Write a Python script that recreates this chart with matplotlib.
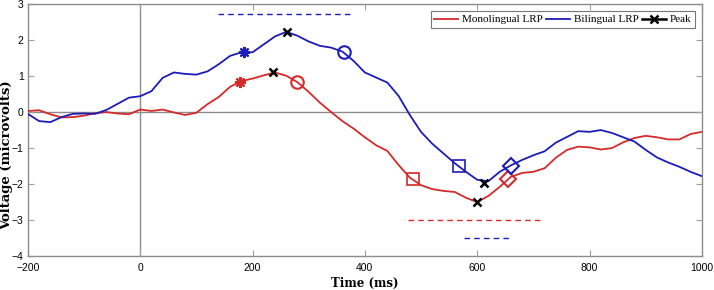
import matplotlib
matplotlib.use('Agg')
import matplotlib.pyplot as plt

# time axis in ms, values every 20 ms
time_ms = list(range(-200, 1001, 20))

mono_lrp = [0.03, 0.05, -0.06, -0.15, -0.14, -0.1, -0.03, 0.0, -0.04, -0.06,
            0.07, 0.03, 0.07, -0.01, -0.08, -0.02, 0.22, 0.42, 0.7, 0.86,
            0.93, 1.02, 1.1, 1.01, 0.83, 0.56, 0.26, 0.0, -0.25, -0.46,
            -0.7, -0.92, -1.08, -1.47, -1.82, -2.03, -2.14, -2.19, -2.22, -2.38,
            -2.5, -2.33, -2.08, -1.8, -1.69, -1.66, -1.56, -1.27, -1.05, -0.96,
            -0.98, -1.04, -1.0, -0.84, -0.72, -0.66, -0.7, -0.76, -0.76, -0.61,
            -0.55]

bi_lrp = [-0.05, -0.25, -0.28, -0.14, -0.05, -0.04, -0.05, 0.06, 0.23, 0.4,
          0.44, 0.58, 0.95, 1.1, 1.06, 1.04, 1.13, 1.33, 1.56, 1.66,
          1.66, 1.88, 2.1, 2.23, 2.12, 1.96, 1.84, 1.79, 1.68, 1.42,
          1.1, 0.96, 0.82, 0.45, -0.08, -0.55, -0.88, -1.15, -1.42, -1.66,
          -1.88, -1.92, -1.66, -1.48, -1.33, -1.2, -1.09, -0.85, -0.69, -0.53,
          -0.55, -0.5, -0.58, -0.7, -0.82, -1.05, -1.26, -1.4, -1.52, -1.66,
          -1.78]

# onset (asterisk), peak (x), offset markers etc.
mono_marks = {'onset': (177, 0.84), 'peak1': (237, 1.1), 'end1': (279, 0.83),
              'onset2': (486, -1.86), 'peak2': (600, -2.5), 'end2': (655, -1.86)}
bi_marks = {'onset': (184, 1.67), 'peak1': (261, 2.23), 'end1': (362, 1.67),
            'onset2': (568, -1.5), 'peak2': (613, -1.97), 'end2': (660, -1.5)}

# significance windows (start, end, level)
bi_sig1 = (139, 378, 2.72)
mono_sig = (477, 718, -3.0)
bi_sig2 = (577, 661, -3.5)

red = '#d42a2a'
blue = '#1c1cb8'

fig = plt.figure(figsize=(7.14, 2.9), dpi=100)
ax = fig.add_axes([0.039, 0.117, 0.944, 0.869])

ax.axhline(0, color='#8c8c8c', lw=1.0, zorder=1)
ax.axvline(0, color='#8c8c8c', lw=1.0, zorder=1)

ax.plot(time_ms, mono_lrp, color=red, lw=1.3, label='Monolingual LRP', zorder=3)
ax.plot(time_ms, bi_lrp, color=blue, lw=1.3, label='Bilingual LRP', zorder=3)

for marks, c in [(mono_marks, red), (bi_marks, blue)]:
    ax.plot(*marks['onset'], marker=(8, 2, 0), ms=8, mec=c, mew=1.5, color=c, zorder=4)
    ax.plot(*marks['end1'], marker='o', ms=9, mfc='none', mec=c, mew=1.5, zorder=4)
    ax.plot(*marks['onset2'], marker='s', ms=8, mfc='none', mec=c, mew=1.2, zorder=4)
    ax.plot(*marks['end2'], marker='D', ms=8, mfc='none', mec=c, mew=1.5, zorder=4)
    for k in ['peak1', 'peak2']:
        ax.plot(*marks[k], marker='x', ms=6, mec='black', mew=1.8, zorder=5)

ax.plot([], [], color='black', lw=1.8, marker='x', ms=6, mew=1.8, label='Peak')

for (s, e, lvl), c in [(bi_sig1, blue), (mono_sig, red), (bi_sig2, blue)]:
    ax.plot([s, e], [lvl, lvl], color=c, lw=1.0, ls=(0, (4, 3)), zorder=2)

ax.set_xlim(-200, 1000)
ax.set_ylim(-4, 3)
ax.set_xticks(range(-200, 1001, 200))
ax.set_yticks(range(-4, 4))
ax.tick_params(direction='in', top=True, right=True, length=4, color='#a0a0a0',
               labelsize=7.5)
ax.tick_params(axis='x', pad=5)
ax.tick_params(axis='y', pad=3)
for t in ax.get_xticklabels() + ax.get_yticklabels():
    t.set_family('Liberation Sans')
for s in ax.spines.values():
    s.set_color('#8c8c8c')
    s.set_linewidth(1.0)

ax.set_xlabel('Time (ms)', family='DejaVu Serif', fontweight='bold', fontsize=8.5, labelpad=3)
ax.set_ylabel('Voltage (microvolts)', family='DejaVu Serif', fontweight='bold', fontsize=9.5)
ax.yaxis.set_label_coords(-0.022, 0.40)

leg = ax.legend(loc='upper right', ncol=3, frameon=True, fancybox=False,
                handlelength=2.2, handletextpad=0.3, columnspacing=0.3,
                borderpad=0.3, borderaxespad=0.65, prop={'family': 'Liberation Serif', 'size': 8})
leg.get_frame().set_edgecolor('#555555')
leg.get_frame().set_linewidth(0.8)

fig.savefig('out.png', dpi=100)
